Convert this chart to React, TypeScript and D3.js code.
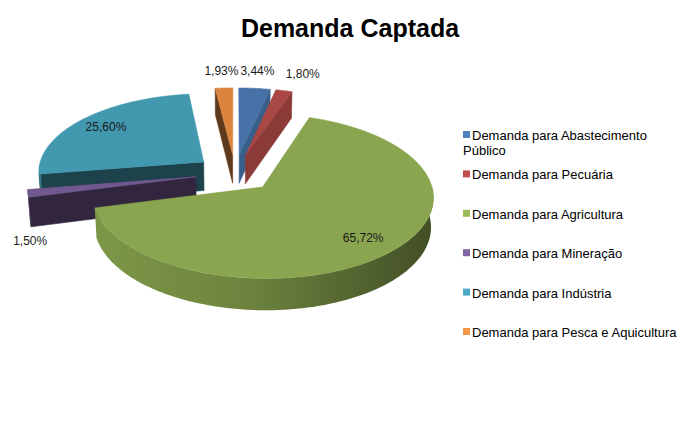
import React, { useEffect, useRef } from 'react';
import * as d3 from 'd3';

const categories = [
  'Demanda para Abastecimento Público',
  'Demanda para Pecuária',
  'Demanda para Agricultura',
  'Demanda para Mineração',
  'Demanda para Indústria',
  'Demanda para Pesca e Aquicultura',
];
const values = [3.44, 1.8, 65.72, 1.5, 25.6, 1.93];
const colors = ['#4F81BD', '#C0504D', '#9BBB59', '#8064A2', '#4BACC6', '#F79646'];
const title = 'Demanda Captada';

const WIDTH = 700;
const HEIGHT = 437;
const FONT = '"Liberation Sans", Arial, sans-serif';

// 3d view of the pie (unit radius model, perspective projection)
const SCALE = 166;
const SIN_A = 0.47;
const COS_A = Math.sqrt(1 - SIN_A * SIN_A);
const DIST = 8;
const CX = 235;
const CY = 173;
const DEPTH = 0.2;
const EXPLODE = 0.24;

const ptBr = d3.formatLocale({ decimal: ',', thousands: '.', grouping: [3], currency: ['', ''] });
const fmt = ptBr.format('.2f');

const project = (x: number, z: number, h: number): [number, number] => {
  const depth = z * COS_A - h * SIN_A;
  const f = DIST / (DIST + depth);
  return [CX + SCALE * x * f, CY - SCALE * (h * COS_A + z * SIN_A) * f];
};

const App: React.FC = () => {
  const ref = useRef<SVGSVGElement>(null);

  useEffect(() => {
    drawChart();
  }, []);

  const drawChart = () => {
    const svg = d3.select(ref.current);
    svg.selectAll('*').remove();
    const defs = svg.append('defs');

    const pie = d3.pie<number>().sort(null).value(v => v);
    const arcs = pie(values);
    const line = d3.line<[number, number]>().curve(d3.curveLinearClosed);

    // title
    svg.append('text')
      .attr('x', WIDTH / 2)
      .attr('y', 37)
      .attr('text-anchor', 'middle')
      .style('font-family', FONT)
      .style('font-size', '25px')
      .style('font-weight', 'bold')
      .text(title);

    const slices = arcs.map((d, i) => {
      const mid = (d.startAngle + d.endAngle) / 2;
      const ox = EXPLODE * Math.sin(mid);
      const oz = EXPLODE * Math.cos(mid);
      const pt = (t: number, r: number, h: number) => project(ox + r * Math.sin(t), oz + r * Math.cos(t), h);
      const arcPts = (t0: number, t1: number, h: number) => {
        const n = Math.max(2, Math.ceil((t1 - t0) / 0.015));
        return d3.range(n + 1).map(k => pt(t0 + (t1 - t0) * k / n, 1, h));
      };
      return { d, i, mid, pt, arcPts };
    });

    // far slices first
    const order = [...slices].sort((a, b) => Math.cos(b.mid) - Math.cos(a.mid));

    order.forEach(s => {
      const { d, i, pt, arcPts } = s;
      const base = d3.color(colors[i])!;
      const g = svg.append('g');
      const a0 = d.startAngle;
      const a1 = d.endAngle;

      const face = (pts: [number, number][], fill: string) => {
        g.append('path')
          .attr('d', line(pts))
          .attr('fill', fill)
          .attr('stroke', fill)
          .attr('stroke-width', 0.6)
          .attr('stroke-linejoin', 'round');
      };

      // radial side faces
      if (Math.sin(a0) < 0) {
        face([pt(a0, 0, 0), pt(a0, 1, 0), pt(a0, 1, -DEPTH), pt(a0, 0, -DEPTH)], base.darker(2.7).formatHex());
      }
      if (Math.sin(a1) > 0) {
        face([pt(a1, 0, 0), pt(a1, 1, 0), pt(a1, 1, -DEPTH), pt(a1, 0, -DEPTH)], base.darker(0.9).formatHex());
      }

      // outer curved side, front half only
      const t0 = Math.max(a0, Math.PI / 2);
      const t1 = Math.min(a1, Math.PI * 1.5);
      if (t1 > t0) {
        const gid = `side-${i}`;
        const grad = defs.append('linearGradient').attr('id', gid).attr('x1', 0).attr('x2', 1).attr('y1', 0).attr('y2', 0);
        grad.append('stop').attr('offset', 0).attr('stop-color', base.darker(0.6).formatHex());
        grad.append('stop').attr('offset', 0.45).attr('stop-color', base.darker(1.0).formatHex());
        grad.append('stop').attr('offset', 1).attr('stop-color', base.darker(2.4).formatHex());
        const top = arcPts(t0, t1, 0);
        const bottom = arcPts(t0, t1, -DEPTH).reverse();
        g.append('path')
          .attr('d', line([...top, ...bottom]))
          .attr('fill', `url(#${gid})`)
          .attr('stroke', 'none');
      }

      // top face
      face([pt(0, 0, 0), ...arcPts(a0, a1, 0)], base.darker(0.35).formatHex());
    });

    // data labels
    type Lab = { x: number; y: number; anchor: string; text: string; far: boolean };
    const labs: Lab[] = slices.map(s => {
      const { d, mid, pt } = s;
      const share = (d.endAngle - d.startAngle) / (2 * Math.PI);
      const text = fmt(d.data) + '%';
      let x: number;
      let y: number;
      let anchor = 'middle';
      let far = false;
      if (share > 0.1) {
        [x, y] = pt(mid, 0.8, 0);
        y += 4;
      } else if (Math.cos(mid) > 0) {
        [x, y] = pt(mid, 1.05, 0);
        y -= 10;
        far = true;
        if (Math.sin(mid) > 0.2) anchor = 'start';
      } else {
        [x, y] = pt(mid, 1.0, -DEPTH);
        y += 22;
      }
      return { x, y, anchor, text, far };
    });

    // push overlapping centred labels above the pie apart
    const halfW = 17;
    const top = labs.filter(l => l.far && l.anchor === 'middle').sort((a, b) => a.x - b.x);
    for (let k = 1; k < top.length; k++) {
      const overlap = top[k - 1].x + halfW + 2 - (top[k].x - halfW);
      if (overlap > 0) {
        top[k - 1].x -= overlap / 2;
        top[k].x += overlap / 2;
      }
    }

    labs.forEach(l => {
      svg.append('text')
        .attr('x', l.x)
        .attr('y', l.y)
        .attr('text-anchor', l.anchor)
        .style('font-family', FONT)
        .style('font-size', '12px')
        .attr('fill', '#1a1a1a')
        .text(l.text);
    });

    // legend
    const legend = svg.append('g').attr('transform', 'translate(463,0)');
    const rowY = d3.scalePoint<number>().domain(d3.range(categories.length)).range([140, 337]);
    const maxWidth = 218;
    categories.forEach((name, i) => {
      const y = rowY(i)!;
      legend.append('rect')
        .attr('x', 0)
        .attr('y', y - 9)
        .attr('width', 7)
        .attr('height', 7)
        .attr('fill', colors[i]);
      const text = legend.append('text')
        .attr('x', 9)
        .attr('y', y)
        .style('font-family', FONT)
        .style('font-size', '13px')
        .attr('fill', '#000');
      // wrap words
      const words = name.split(' ');
      let lineWords: string[] = [];
      let tspan = text.append('tspan').attr('x', 9).attr('y', y);
      let lineNo = 0;
      words.forEach(w => {
        lineWords.push(w);
        tspan.text(lineWords.join(' '));
        if ((tspan.node() as SVGTSpanElement).getComputedTextLength() > maxWidth && lineWords.length > 1) {
          lineWords.pop();
          tspan.text(lineWords.join(' '));
          lineWords = [w];
          lineNo += 1;
          tspan = text.append('tspan').attr('x', 0).attr('y', y + lineNo * 15).text(w);
        }
      });
    });
  };

  return (
    <svg
      ref={ref}
      width={WIDTH}
      height={HEIGHT}
      style={{ position: 'absolute', left: 0, top: 0, background: '#fff' }}
    />
  );
};

export default App;
